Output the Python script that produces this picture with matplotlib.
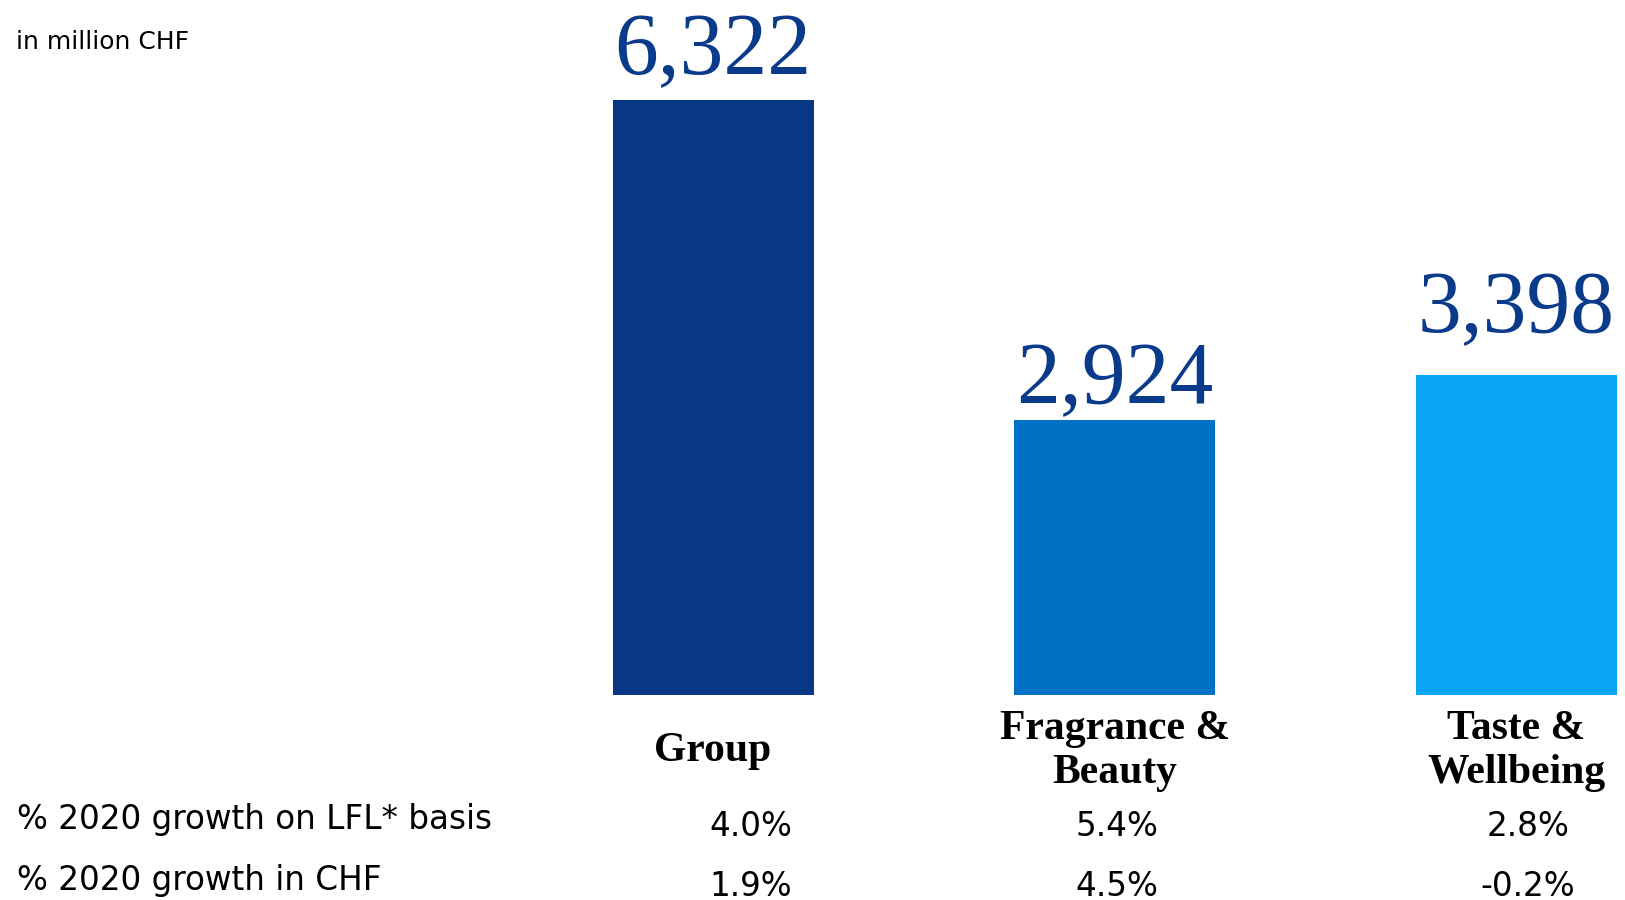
import matplotlib.pyplot as plt
from matplotlib.transforms import blended_transform_factory

# data
categories = ['Group', 'Fragrance &\nBeauty', 'Taste &\nWellbeing']
sales = [6322, 2924, 3398]
sales_labels = ['6,322', '2,924', '3,398']
row_names = ['% 2020 growth on LFL* basis', '% 2020 growth in CHF']
growth_lfl = ['4.0%', '5.4%', '2.8%']
growth_chf = ['1.9%', '4.5%', '-0.2%']

bar_colors = ['#083885', '#0072C6', '#08A6F5']
label_color = '#0A3A8A'
label_offsets = [19, 12, 31]  # points above bar top

fig = plt.figure(figsize=(16.25, 9), dpi=100)
ax = fig.add_axes([0, 205 / 900, 1, 695 / 900])

x = list(range(len(categories)))
ax.bar(x, sales, width=0.5, color=bar_colors)
ax.set_xlim(-1.776, 2.271)
ax.set_ylim(0, 6322 * 695 / 595)
ax.axis('off')

for xi, v, lab, off in zip(x, sales, sales_labels, label_offsets):
    ax.annotate(lab, (xi, v), xytext=(0, off), textcoords='offset points',
                ha='center', va='baseline', fontsize=63,
                family='Liberation Serif', color=label_color)

trans = blended_transform_factory(ax.transData, fig.transFigure)
for xi, cat in zip(x, categories):
    ax.text(xi, 0.166, cat, transform=trans, ha='center', va='center',
            multialignment='center', fontsize=30, fontweight='bold',
            family='Liberation Serif', linespacing=1.2, color='black')

fig.text(16 / 1625, 1 - 42 / 900, 'in million CHF', fontsize=18,
         family='DejaVu Sans', va='center', ha='left')

col_x = [751 / 1625, 1117 / 1625, 1528 / 1625]
row_y = [0.089, 0.022]
val_y = [0.082, 0.0155]
for name, ly, vy, vals in zip(row_names, row_y, val_y, [growth_lfl, growth_chf]):
    fig.text(17 / 1625, ly, name, fontsize=23.5, family='DejaVu Sans',
             va='center', ha='left')
    for cx, v in zip(col_x, vals):
        fig.text(cx, vy, v, fontsize=23.5, family='DejaVu Sans',
                 va='center', ha='center')

fig.savefig('out.png', dpi=100)
